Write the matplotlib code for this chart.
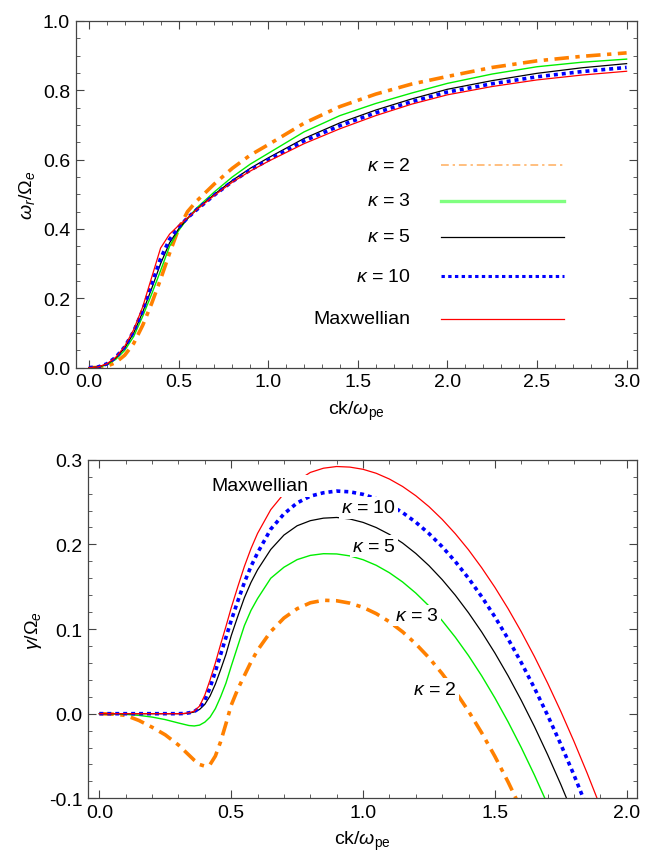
import numpy as np
import matplotlib
matplotlib.use("Agg")
import matplotlib.pyplot as plt
from matplotlib.ticker import MultipleLocator, FormatStrFormatter

plt.rcParams['font.family'] = ['Liberation Sans', 'DejaVu Sans']
plt.rcParams['mathtext.fontset'] = 'custom'
plt.rcParams['mathtext.rm'] = 'Liberation Sans'
plt.rcParams['mathtext.it'] = 'Liberation Sans:italic'
plt.rcParams['mathtext.bf'] = 'Liberation Sans:bold'
plt.rcParams['axes.unicode_minus'] = True

# ---------------- real frequency  omega_r / Omega_e ----------------
k_top = [0, 0.05, 0.1, 0.15, 0.2, 0.25, 0.3, 0.35, 0.4, 0.45, 0.5, 0.55, 0.6,
         0.7, 0.8, 0.9, 1.0, 1.2, 1.4, 1.6, 1.8, 2.0, 2.25, 2.5, 2.75, 3.0]
wr_kappa2 = [0, 0.0005, 0.004, 0.015, 0.036, 0.07, 0.122, 0.185, 0.255, 0.33, 0.40,
             0.45, 0.48, 0.53, 0.575, 0.613, 0.643, 0.705, 0.753, 0.789, 0.818, 0.84,
             0.866, 0.885, 0.898, 0.908]
wr_kappa3 = [0, 0.001, 0.008, 0.024, 0.05, 0.09, 0.148, 0.212, 0.28, 0.35, 0.395,
             0.43, 0.46, 0.507, 0.55, 0.587, 0.618, 0.680, 0.727, 0.762, 0.792, 0.82,
             0.847, 0.868, 0.881, 0.89]
wr_kappa5 = [0, 0.002, 0.01, 0.028, 0.057, 0.1, 0.16, 0.228, 0.3, 0.36, 0.4,
             0.43, 0.456, 0.5, 0.54, 0.575, 0.605, 0.661, 0.706, 0.743, 0.775, 0.803,
             0.828, 0.849, 0.865, 0.877]
wr_kappa10 = [0, 0.002, 0.011, 0.03, 0.06, 0.105, 0.165, 0.24, 0.315, 0.37, 0.405,
              0.432, 0.455, 0.498, 0.537, 0.57, 0.599, 0.654, 0.698, 0.735, 0.767, 0.795,
              0.819, 0.839, 0.854, 0.866]
wr_maxw = [0, 0.002, 0.011, 0.03, 0.062, 0.11, 0.175, 0.26, 0.345, 0.385, 0.41,
           0.432, 0.455, 0.497, 0.535, 0.567, 0.595, 0.646, 0.689, 0.727, 0.76, 0.787,
           0.811, 0.83, 0.844, 0.855]

# ---------------- growth rate  gamma / Omega_e ----------------
k_bot = [0, 0.05, 0.1, 0.15, 0.2, 0.25, 0.3, 0.32, 0.34, 0.36, 0.38, 0.4, 0.42,
         0.44, 0.46, 0.48, 0.5, 0.525, 0.55, 0.575, 0.6, 0.65, 0.7, 0.75, 0.8,
         0.85, 0.9, 0.95, 1.0, 1.05, 1.1, 1.15, 1.2, 1.25, 1.3, 1.35, 1.4, 1.45,
         1.5, 1.55, 1.6, 1.65, 1.7, 1.75, 1.8, 1.85, 1.9]
g_kappa2 = [0, -0.0005, -0.002, -0.008, -0.016, -0.025, -0.037, -0.043, -0.049,
            -0.055, -0.06, -0.062, -0.06, -0.05, -0.033, -0.012, 0.01, 0.029, 0.045,
            0.061, 0.075, 0.097, 0.113, 0.124, 0.131, 0.134, 0.1334, 0.1306, 0.1256,
            0.1182, 0.1086, 0.0967, 0.0825, 0.0661, 0.0473, 0.0263, 0.0030, -0.0226,
            -0.0504, -0.0806, -0.1130, -0.1477, -0.1847, -0.224, -0.2655, -0.309,
            -0.355]
g_kappa3 = [0, -0.0002, -0.0008, -0.002, -0.004, -0.007, -0.011, -0.0125, -0.014,
            -0.0145, -0.0135, -0.01, -0.004, 0.006, 0.02, 0.036, 0.056, 0.08, 0.104,
            0.122, 0.136, 0.16, 0.173, 0.182, 0.187, 0.189, 0.1887, 0.1864, 0.1819,
            0.1753, 0.1665, 0.1556, 0.1425, 0.1273, 0.1099, 0.0903, 0.0686, 0.0447,
            0.0186, -0.0096, -0.0400, -0.0725, -0.1072, -0.144, -0.183, -0.224,
            -0.2675]
g_kappa5 = [0, 0, 0, 0, 0, 0, 0, 0.0001, 0.0007, 0.002, 0.005, 0.011, 0.021, 0.035,
            0.052, 0.07, 0.092, 0.115, 0.137, 0.155, 0.17, 0.194, 0.211, 0.222,
            0.228, 0.231, 0.2318, 0.2300, 0.2260, 0.2199, 0.2118, 0.2016, 0.1893,
            0.1749, 0.1584, 0.1399, 0.1192, 0.0965, 0.0717, 0.0448, 0.0158, -0.0152,
            -0.0484, -0.0836, -0.1210, -0.1604, -0.2018]
g_kappa10 = [0, 0, 0, 0, 0, 0, 0, 0.0002, 0.001, 0.0025, 0.007, 0.016, 0.031, 0.05,
             0.07, 0.09, 0.11, 0.133, 0.155, 0.174, 0.19, 0.218, 0.236, 0.249, 0.257,
             0.261, 0.263, 0.2621, 0.2591, 0.2540, 0.2468, 0.2376, 0.2262, 0.2128,
             0.1973, 0.1797, 0.1600, 0.1382, 0.1144, 0.0884, 0.0604, 0.0303, -0.0019,
             -0.0362, -0.0725, -0.111, -0.1515]
g_maxw = [0, 0, 0, 0, 0, 0, 0, 0.0002, 0.001, 0.003, 0.009, 0.022, 0.04, 0.06,
          0.082, 0.103, 0.125, 0.15, 0.174, 0.195, 0.213, 0.241, 0.26, 0.275, 0.285,
          0.29, 0.292, 0.2913, 0.2887, 0.2840, 0.2772, 0.2684, 0.2575, 0.2446,
          0.2296, 0.2126, 0.1936, 0.1724, 0.1493, 0.1241, 0.0968, 0.0675, 0.0361,
          0.0027, -0.0328, -0.0703, -0.1098]

labels = [r'$\kappa$ = 2', r'$\kappa$ = 3', r'$\kappa$ = 5', r'$\kappa$ = 10', 'Maxwellian']

ORANGE = '#ff8000'
GREEN = '#00ee00'
BLACK = '#000000'
BLUE = '#0000ff'
RED = '#ff0000'

styles = [
    dict(color=ORANGE, lw=2.6, ls=(0, (4, 1.8, 1.2, 1.8))),
    dict(color=GREEN, lw=1.0, ls='-'),
    dict(color=BLACK, lw=0.9, ls='-'),
    dict(color=BLUE, lw=2.6, ls=(0, (1.1, 1.1))),
    dict(color=RED, lw=0.9, ls='-'),
]
legend_styles = [
    dict(color=ORANGE, lw=1.4, ls=(0, (4, 2, 1.2, 2)), alpha=0.5),
    dict(color='#80ff80', lw=2.4, ls='-'),
    dict(color=BLACK, lw=0.9, ls='-'),
    dict(color=BLUE, lw=2.2, ls=(0, (1.1, 1.1))),
    dict(color=RED, lw=0.9, ls='-'),
]

FS = 14

fig = plt.figure(figsize=(6.52, 8.62), dpi=100)
ax1 = fig.add_axes([0.116, 0.5723, 0.861, 0.4022])
ax2 = fig.add_axes([0.1354, 0.0727, 0.8416, 0.3928])


def frame(ax):
    for s in ax.spines.values():
        s.set_color('#444444')
        s.set_linewidth(0.9)
    ax.tick_params(which='both', direction='in', top=True, right=True,
                   color='#444444', labelsize=FS, pad=4)
    ax.tick_params(which='major', length=6, width=0.8)
    ax.tick_params(which='minor', length=3, width=0.6)


# top panel
top_series = [wr_kappa2, wr_kappa3, wr_kappa5, wr_kappa10, wr_maxw]
order = [4, 2, 1, 3, 0]
for i in order:
    ax1.plot(k_top, top_series[i], **styles[i], zorder=2 + i * 0.1)
ax1.set_xlim(-0.074, 3.058)
ax1.set_ylim(0, 1.0)
ax1.xaxis.set_major_locator(MultipleLocator(0.5))
ax1.xaxis.set_minor_locator(MultipleLocator(0.1))
ax1.yaxis.set_major_locator(MultipleLocator(0.2))
ax1.yaxis.set_minor_locator(MultipleLocator(0.05))
ax1.xaxis.set_major_formatter(FormatStrFormatter('%.1f'))
ax1.yaxis.set_major_formatter(FormatStrFormatter('%.1f'))
frame(ax1)
ax1.set_xlabel(r'ck/$\omega_{\rm pe}$', fontsize=FS, labelpad=6)
ax1.set_ylabel(r'$\omega_r/\Omega_e$', fontsize=FS, labelpad=4)

# legend drawn by hand inside the top panel
leg_y = [0.584, 0.481, 0.377, 0.264, 0.141]
for lab, st, yy in zip(labels, legend_styles, leg_y):
    ax1.text(0.597, yy, lab, transform=ax1.transAxes, ha='right', va='center',
             fontsize=FS)
    ax1.plot([0.651, 0.870], [yy, yy], transform=ax1.transAxes, **st)

# bottom panel
bot_series = [g_kappa2, g_kappa3, g_kappa5, g_kappa10, g_maxw]
for i in order:
    ax2.plot(k_bot, bot_series[i], **styles[i], zorder=2 + i * 0.1)
ax2.set_xlim(-0.042, 2.039)
ax2.set_ylim(-0.1, 0.3)
ax2.xaxis.set_major_locator(MultipleLocator(0.5))
ax2.xaxis.set_minor_locator(MultipleLocator(0.1))
ax2.yaxis.set_major_locator(MultipleLocator(0.1))
ax2.yaxis.set_minor_locator(MultipleLocator(0.02))
ax2.xaxis.set_major_formatter(FormatStrFormatter('%.1f'))
ax2.yaxis.set_major_formatter(FormatStrFormatter('%.1f'))
frame(ax2)
ax2.set_xlabel(r'ck/$\omega_{\rm pe}$', fontsize=FS, labelpad=6)
ax2.set_ylabel(r'$\gamma/\Omega_e$', fontsize=FS, labelpad=4)

# curve labels with a white patch over the lines
label_pos = [(1.271, 0.029), (1.204, 0.116), (1.042, 0.198), (1.022, 0.243), (0.609, 0.269)]
for lab, (xx, yy) in zip(labels, label_pos):
    ax2.text(xx, yy, lab, ha='center', va='center', fontsize=FS, zorder=5,
             bbox=dict(facecolor='white', edgecolor='none', pad=1.5))

fig.savefig('out.png', dpi=100)
